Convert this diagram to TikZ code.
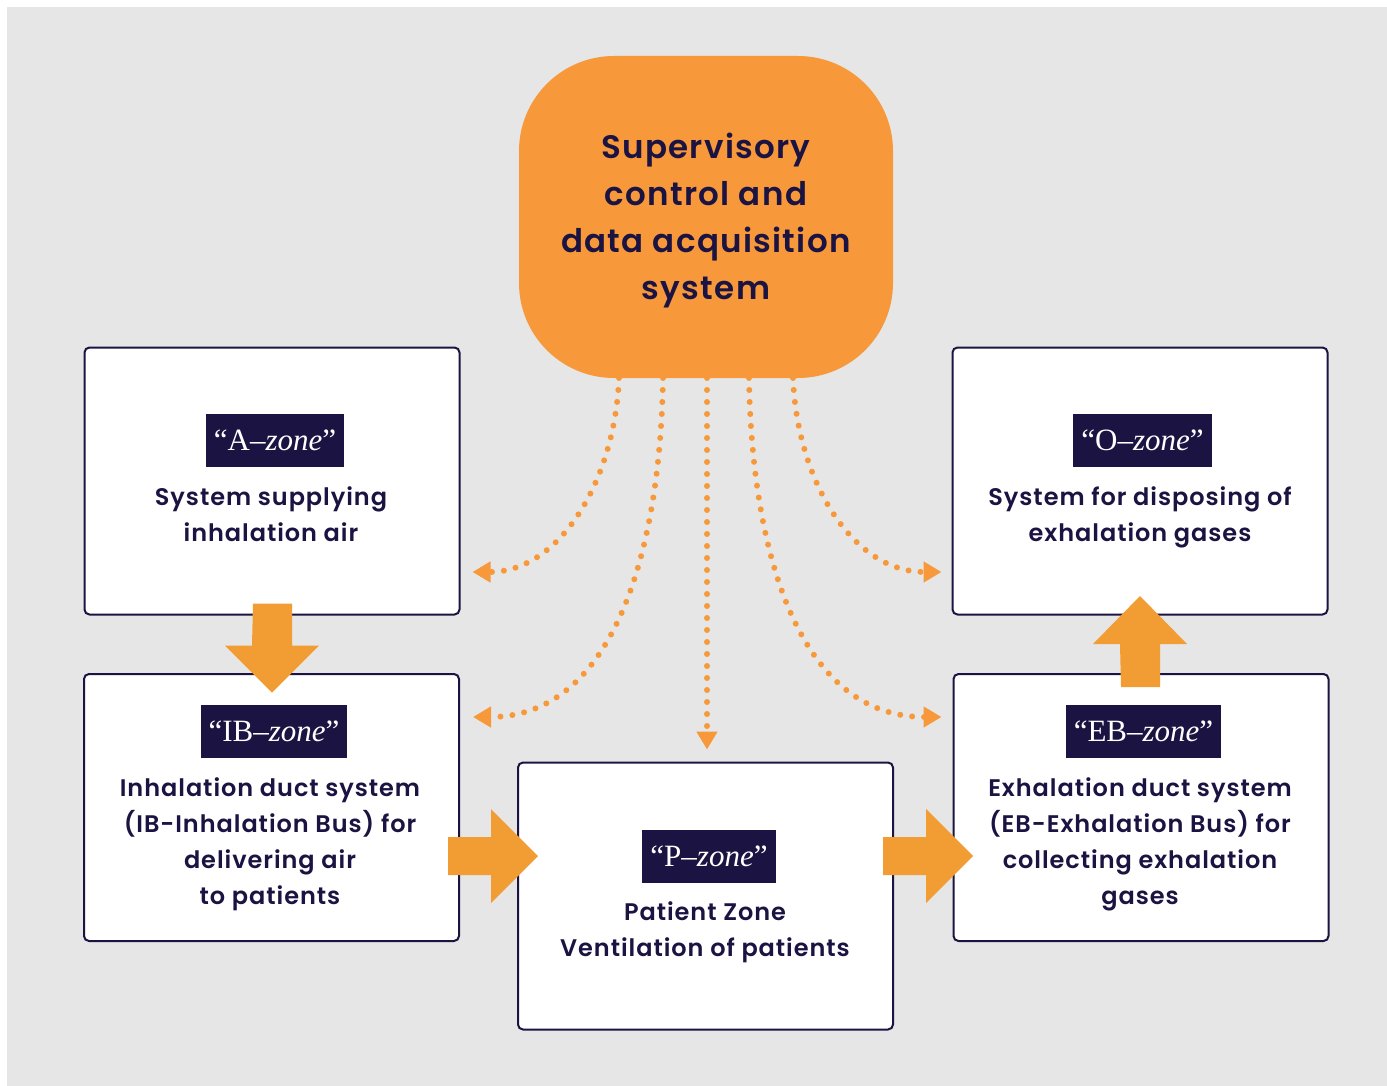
\documentclass[tikz,border=0pt]{standalone}
\usepackage{fontspec}
\IfFontExistsTF{Poppins SemiBold}{%
\setmainfont{Poppins}[BoldFont={Poppins SemiBold},BoldFeatures={LetterSpace=4}]}{%
\setmainfont{Poppins}[BoldFeatures={LetterSpace=4}]}
\newfontfamily\tagfont{Liberation Serif}
\usetikzlibrary{arrows.meta,calc}
\definecolor{navy}{HTML}{1B1442}
\definecolor{bgray}{HTML}{E6E6E6}
\definecolor{orng}{HTML}{F7993B}
\definecolor{arr}{HTML}{F29D34}
\begin{document}
\begin{tikzpicture}[x=1pt,y=-1pt,
 zonebox/.style={draw=navy,line width=2pt,fill=white,rounded corners=5pt,minimum width=375pt,minimum height=267pt,inner sep=0pt},
 ztag/.style={fill=navy,text=white,font=\tagfont\fontsize{31}{31}\selectfont,minimum height=53pt,inner xsep=8pt,inner ysep=0pt},
 ztext/.style={text=navy,font=\bfseries\fontsize{24}{36}\selectfont,align=center},
 toptext/.style={text=navy,font=\bfseries\fontsize{32.5}{47}\selectfont,align=center},
 dotarrow/.style={draw=orng,line width=6pt,line cap=round,dash pattern=on 0pt off 12pt,-{Triangle[length=18pt,width=20pt]}},
 bigarr/.style={fill=arr}]
\useasboundingbox (0,0) rectangle (1387,1086);
\fill[white] (0,0) rectangle (1387,1086);
\fill[bgray] (7,7) rectangle (1387,1086);

% zone boxes
\node[zonebox] (A) at (272,481) {};
\node[zonebox] (O) at (1140,481) {};
\node[zonebox] (IB) at (271.5,807.5) {};
\node[zonebox] (EB) at (1141,807.5) {};
\node[zonebox] (P) at (705.5,896) {};

% dotted connectors
\coordinate (s1) at (619,378);
\coordinate (s2) at (663,378);
\coordinate (s3) at (707,378);
\coordinate (s4) at (749,378);
\coordinate (s5) at (793,378);
\draw[dotarrow] (s1) .. controls (615,480) and (560,572) .. ([shift={(12,91)}]A.east);
\draw[dotarrow] (s2) .. controls (660,560) and (610,717) .. ([shift={(13,-90.5)}]IB.east);
\draw[dotarrow] (s3) -- ([shift={(1.5,-12)}]P.north);
\draw[dotarrow] (s4) .. controls (752,560) and (802,717) .. ([shift={(-11,-90.5)}]EB.west);
\draw[dotarrow] (s5) .. controls (797,480) and (852,572) .. ([shift={(-10,91)}]O.west);

% top box
\node[fill=orng,rounded corners=95pt,minimum width=374pt,minimum height=322pt,inner sep=0pt] (top) at (706,217) {};
\node[toptext] (toplbl) at (706,220.5) {Supervisory\\control and\\data acquisition\\system};

% big arrows
\fill[bigarr] ([shift={(-19,-12)}]A.south) -- ++(39,0) -- ++(0,42) -- ++(27,0) -- ++(-47,47) -- ++(-47,-47) -- ++(27,0) -- cycle;
\fill[bigarr] ([shift={(-20,14)}]EB.north) -- ++(39,0) -- ++(0,-43) -- ++(27,0) -- ++(-47,-48) -- ++(-47,48) -- ++(27,0) -- cycle;
\fill[bigarr] (448,837) -- (491,837) -- (491,809) -- (538,856) -- (491,903) -- (491,875) -- (448,875) -- cycle;
\fill[bigarr] (883,837) -- (926,837) -- (926,809) -- (973,856) -- (926,903) -- (926,875) -- (883,875) -- cycle;

% tags and texts
\node[ztag] (Atag) at (275,440.5) {“A–\textit{zone}”};
\node[ztext] (Atxt) at (271,514) {System supplying\\inhalation air};
\node[ztag] (Otag) at (1142.5,440.5) {“O–\textit{zone}”};
\node[ztext] (Otxt) at (1140,517) {System for disposing of\\exhalation gases};
\node[ztag] (IBtag) at (274,731.5) {“IB–\textit{zone}”};
\node[ztext] (IBtxt) at (270,844) {Inhalation duct system\\(IB-Inhalation Bus) for\\delivering air\\to patients};
\node[ztag] (EBtag) at (1143.5,731.5) {“EB–\textit{zone}”};
\node[ztext] (EBtxt) at (1140,844) {Exhalation duct system\\(EB-Exhalation Bus) for\\collecting exhalation\\gases};
\node[ztag] (Ptag) at (709,856) {“P–\textit{zone}”};
\node[ztext] (Ptxt) at (705,932) {Patient Zone\\Ventilation of patients};
\end{tikzpicture}
\end{document}
